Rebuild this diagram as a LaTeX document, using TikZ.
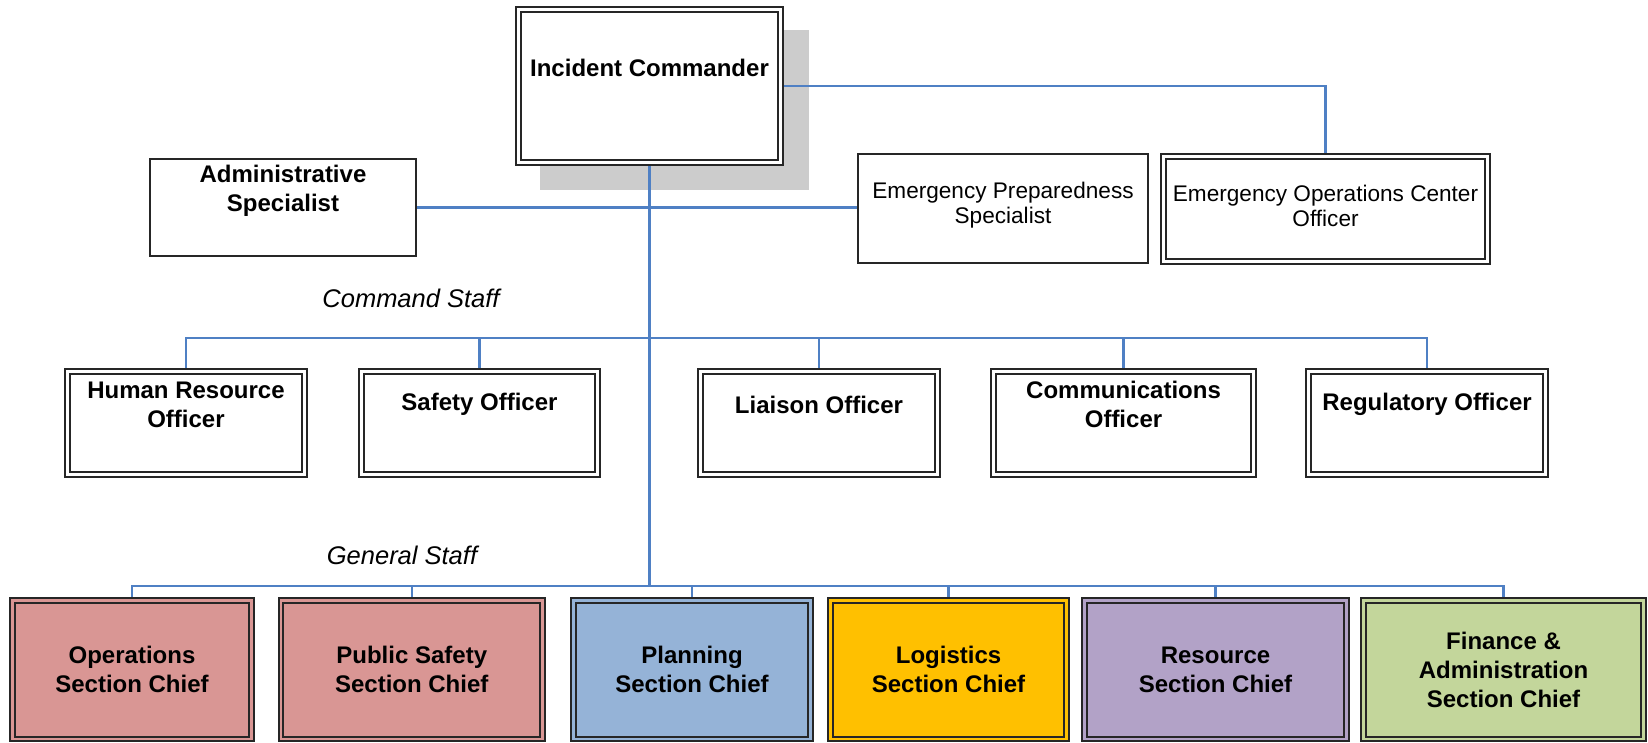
\documentclass[tikz,border=0pt]{standalone}
\usepackage{fontspec}
\setmainfont{Liberation Sans}
\usetikzlibrary{backgrounds}
\definecolor{busblue}{HTML}{4F80C4}
\definecolor{boxline}{HTML}{262626}
\definecolor{shadowgray}{HTML}{CCCCCC}
\definecolor{opsred}{HTML}{D99694}
\definecolor{planblue}{HTML}{95B3D7}
\definecolor{logyellow}{HTML}{FFC000}
\definecolor{respurple}{HTML}{B2A2C7}
\definecolor{fingreen}{HTML}{C3D69B}
\begin{document}
\begin{tikzpicture}[x=0.5pt,y=-0.5pt,
  dbox/.style={draw=boxline, line width=1.15pt, double=#1, double distance=1.1pt,
    fill=#1, inner sep=0pt, outer sep=0pt, rectangle},
  dbox/.default=white,
  sbox/.style={draw=boxline, line width=1.1pt, fill=white, inner sep=0pt, outer sep=0pt, rectangle},
  txt/.style={align=center, inner sep=0pt, font=\fontsize{12}{14.5}\selectfont\bfseries},
  smalltxt/.style={align=center, inner sep=0pt, font=\fontsize{11.3}{12.5}\selectfont},
  staff/.style={inner sep=0pt, font=\fontsize{12.75}{14}\selectfont\itshape},
  conn/.style={draw=busblue, line width=1.1pt}
]
\useasboundingbox (0,0) rectangle (1648,743);

% Incident commander
\node[dbox, minimum width=131pt, minimum height=76.5pt,
  label={[name=ICt, txt, yshift=9pt]center:Incident Commander}] (IC) at (649.5,86) {};

% staff specialists
\node[sbox, minimum width=133pt, minimum height=48.5pt,
  label={[name=ASt, txt, yshift=8.25pt]center:Administrative\\Specialist}] (AS) at (283,207.5) {};
\node[sbox, minimum width=145pt, minimum height=54.5pt,
  label={[name=EPSt, smalltxt, yshift=1.75pt]center:Emergency Preparedness\\Specialist}] (EPS) at (1003,208.5) {};
\node[dbox, minimum width=162pt, minimum height=52.5pt,
  label={[name=EOCt, smalltxt, yshift=1.75pt]center:Emergency Operations Center\\Officer}] (EOC) at (1325.5,209) {};

% command staff
\node[staff] (CSL) at (411,298) {Command Staff};
\node[dbox, minimum width=118.5pt, minimum height=51.5pt,
  label={[name=HRt, txt, yshift=9.25pt]center:Human Resource\\Officer}] (HR) at (186,423) {};
\node[dbox, minimum width=118pt, minimum height=51.5pt,
  label={[name=SOt, txt, yshift=9.25pt]center:Safety Officer}] (SO) at (479.5,423) {};
\node[dbox, minimum width=118.5pt, minimum height=51.5pt,
  label={[name=LOt, txt, yshift=9.25pt]center:Liaison Officer}] (LO) at (819,423) {};
\node[dbox, minimum width=130pt, minimum height=51.5pt,
  label={[name=COt, txt, yshift=9.25pt]center:Communications\\Officer}] (CO) at (1123.5,423) {};
\node[dbox, minimum width=118.5pt, minimum height=51.5pt,
  label={[name=ROt, txt, yshift=9.25pt]center:Regulatory Officer}] (RO) at (1427,423) {};

% general staff
\node[staff] (GSL) at (402,555) {General Staff};
\node[dbox=opsred, txt, minimum width=119.5pt, minimum height=69.25pt] (OPS) at (132,669.75) {Operations\\Section Chief};
\node[dbox=opsred, txt, minimum width=130.75pt, minimum height=69.25pt] (PS) at (411.75,669.75) {Public Safety\\Section Chief};
\node[dbox=planblue, txt, minimum width=118.5pt, minimum height=69.25pt] (PL) at (692,669.75) {Planning\\Section Chief};
\node[dbox=logyellow, txt, minimum width=118pt, minimum height=69.25pt] (LG) at (948.5,669.75) {Logistics\\Section Chief};
\node[dbox=respurple, txt, minimum width=131pt, minimum height=69.25pt] (RS) at (1215.5,669.75) {Resource\\Section Chief};
\node[dbox=fingreen, txt, minimum width=140pt, minimum height=69.25pt] (FA) at (1503.5,669.75) {Finance \&\\Administration\\Section Chief};

\coordinate (csbus) at (649,338);
\coordinate (gsbus) at (649,586);

\begin{scope}[on background layer]
  \fill[shadowgray] (540,30) rectangle (809,190);
  % trunk
  \draw[conn] (IC.south) -- (IC.south |- gsbus);
  % to EOC
  \draw[conn] (IC.east) -| (EOC.north);
  % admin to EPS
  \draw[conn] (AS.east) -- (AS.east -| EPS.west);
  % command staff bus
  \draw[conn] (HR.north) -- (HR.north |- csbus) -- (RO.north |- csbus) -- (RO.north);
  \draw[conn] (SO.north) -- (SO.north |- csbus);
  \draw[conn] (LO.north) -- (LO.north |- csbus);
  \draw[conn] (CO.north) -- (CO.north |- csbus);
  % general staff bus
  \draw[conn] (OPS.north) -- (OPS.north |- gsbus) -- (FA.north |- gsbus) -- (FA.north);
  \draw[conn] (PS.north) -- (PS.north |- gsbus);
  \draw[conn] (PL.north) -- (PL.north |- gsbus);
  \draw[conn] (LG.north) -- (LG.north |- gsbus);
  \draw[conn] (RS.north) -- (RS.north |- gsbus);
\end{scope}
\end{tikzpicture}
\end{document}
